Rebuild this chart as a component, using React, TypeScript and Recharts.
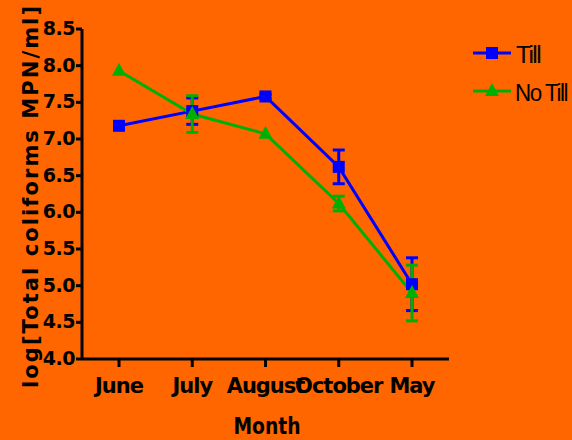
import { LineChart, Line, XAxis, YAxis, ErrorBar } from "recharts"

const months = ["June", "July", "August", "October", "May"]
const till = [7.18, 7.38, 7.58, 6.62, 5.02]
const tillErr = [0, 0.18, 0.03, 0.23, 0.36]
const noTill = [7.93, 7.34, 7.07, 6.12, 4.9]
const noTillErr = [0, 0.25, 0, 0.1, 0.38]
const yTicks = [4.0, 4.5, 5.0, 5.5, 6.0, 6.5, 7.0, 7.5, 8.0, 8.5]

const data = months.map((m, i) => ({
  month: m,
  till: till[i],
  tillErr: tillErr[i],
  noTill: noTill[i],
  noTillErr: noTillErr[i],
}))

const BG = "#FF6600"
const BLUE = "#0000FF"
const GREEN = "#00B000"
const FONT = "'DejaVu Sans', sans-serif"

const Square = (props: any) => {
  const { cx, cy, key } = props
  if (cx == null || cy == null) return null
  return <rect key={key} x={cx - 6} y={cy - 6} width={12} height={12} fill={BLUE} />
}

const Triangle = (props: any) => {
  const { cx, cy, key } = props
  if (cx == null || cy == null) return null
  return <polygon key={key} points={`${cx},${cy - 8} ${cx - 7},${cy + 5} ${cx + 7},${cy + 5}`} fill={GREEN} />
}

const YTick = ({ x, y, payload }: any) => (
  <text x={x} y={y} dy={6} textAnchor="end" fontFamily={FONT} fontWeight={700} fontSize={19} fill="#000" letterSpacing={-0.5}>
    {payload.value.toFixed(1)}
  </text>
)

const XTick = ({ x, y, payload }: any) => (
  <text x={x} y={y} dy={16} textAnchor="middle" fontFamily={FONT} fontWeight={700} fontSize={21} fill="#000" letterSpacing={-1}>
    {payload.value}
  </text>
)

export default function App() {
  return (
    <div style={{ position: "absolute", left: 0, top: 0, width: 572, height: 440, background: BG }}>
      <LineChart width={572} height={440} data={data} margin={{ top: 29, right: 123, left: 0, bottom: 0 }}>
        <XAxis
          dataKey="month"
          height={81}
          interval={0}
          padding={{ left: 37, right: 37 }}
          stroke="#000"
          strokeWidth={3}
          tickSize={8}
          tickMargin={10}
          tick={<XTick />}
          label={() => (
            <text x={267} y={434} textAnchor="middle" fontFamily={FONT} fontWeight={700} fontSize={23} fill="#000" textLength={67} lengthAdjust="spacingAndGlyphs">
              Month
            </text>
          )}
        />
        <YAxis
          width={82}
          domain={[4, 8.5]}
          ticks={yTicks}
          stroke="#000"
          strokeWidth={3}
          tickSize={6}
          tickMargin={1}
          tick={<YTick />}
          label={() => (
            <text
              transform="translate(38,197) rotate(-90)"
              textAnchor="middle"
              fontFamily={FONT}
              fontWeight={700}
              fontSize={21}
              fill="#000"
              textLength={382}
              lengthAdjust="spacing"
            >
              log[Total coliforms MPN/ml]
            </text>
          )}
        />
        <Line
          dataKey="till"
          stroke={BLUE}
          strokeWidth={3}
          dot={<Square />}
          activeDot={false}
          isAnimationActive={false}
        >
          <ErrorBar dataKey="tillErr" stroke={BLUE} strokeWidth={3} width={6} />
        </Line>
        <Line
          dataKey="noTill"
          stroke={GREEN}
          strokeWidth={3}
          dot={<Triangle />}
          activeDot={false}
          isAnimationActive={false}
        >
          <ErrorBar dataKey="noTillErr" stroke={GREEN} strokeWidth={3} width={6} />
        </Line>
      </LineChart>
      <svg width={572} height={440} style={{ position: "absolute", left: 0, top: 0, pointerEvents: "none" }}>
        <line x1={473} x2={511} y1={53} y2={53} stroke={BLUE} strokeWidth={3} />
        <rect x={486} y={47} width={12} height={12} fill={BLUE} />
        <text x={516} y={63} fontFamily="'Liberation Sans', sans-serif" fontSize={23} letterSpacing={-1.5} fill="#000" textLength={24} lengthAdjust="spacingAndGlyphs">
          Till
        </text>
        <line x1={473} x2={511} y1={91} y2={91} stroke={GREEN} strokeWidth={3} />
        <polygon points="492,83 485,96 499,96" fill={GREEN} />
        <text x={515} y={101} fontFamily="'Liberation Sans', sans-serif" fontSize={23} letterSpacing={-1.5} fill="#000" textLength={52} lengthAdjust="spacingAndGlyphs">
          No Till
        </text>
      </svg>
    </div>
  )
}
